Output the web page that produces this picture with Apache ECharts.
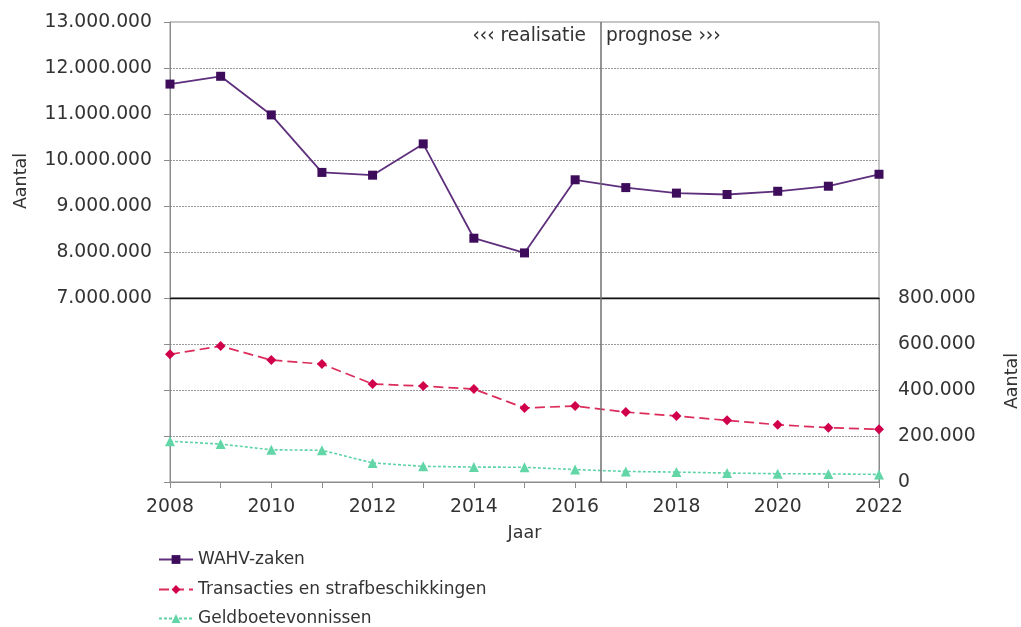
<!DOCTYPE html>
<html>
<head>
<meta charset="utf-8">
<script src="https://cdn.jsdelivr.net/npm/echarts@6/dist/echarts.min.js"></script>
<style>
  html, body { margin: 0; padding: 0; background: #fff; }
  #chart { width: 1021px; height: 627px; }
</style>
</head>
<body>
<div id="chart"></div>
<script>
// Jaren op de x-as
const years = [2008, 2009, 2010, 2011, 2012, 2013, 2014, 2015, 2016, 2017, 2018, 2019, 2020, 2021, 2022];

// Aantallen per jaar (realisatie t/m 2016, daarna prognose)
const wahvZaken = [11650000, 11820000, 10980000, 9730000, 9670000, 10350000, 8300000, 7980000,
                   9570000, 9400000, 9280000, 9250000, 9320000, 9430000, 9690000];
const transacties = [555000, 591000, 530000, 513000, 426000, 417000, 404000, 322000,
                     330000, 304000, 287000, 268000, 249000, 236000, 229000];
const geldboetes = [177000, 165000, 140000, 138000, 83000, 68000, 65000, 64000,
                    54000, 46000, 43000, 39000, 36000, 35000, 33000];

// Reeksnamen in de legenda
const seriesNames = ['WAHV-zaken', 'Transacties en strafbeschikkingen', 'Geldboetevonnissen'];

// Grens tussen realisatie en prognose
const splitYear = 2016.5;

// Schaalverdeling van beide y-assen
const topAxis = { min: 7000000, max: 13000000, interval: 1000000 };
const bottomAxis = { min: 0, max: 800000, interval: 200000 };

const FONT = '"DejaVu Sans", Verdana, sans-serif';
const TEXT = '#333333';
const GRIDC = '#8c8c8c';
const TICKFS = 18.8;

function dots(v) {
  return String(Math.round(v)).replace(/\B(?=(\d{3})+(?!\d))/g, '.');
}
function pairs(vals) {
  return years.map((y, i) => [y, vals[i]]);
}

const divider = {
  symbol: 'none',
  silent: true,
  label: { show: false },
  lineStyle: { color: '#707070', type: 'solid', width: 1.5 },
  data: [{ xAxis: splitYear }]
};

// één legenda-regel per reeks, onder elkaar
const legendTops = [551, 581, 610];
const legends = seriesNames.map((name, i) => ({
  orient: 'vertical', left: 158, top: legendTops[i], padding: 0,
  itemWidth: 34, itemHeight: 11,
  textStyle: { fontSize: 17, color: TEXT, fontFamily: FONT },
  data: [name]
}));

const chart = echarts.init(document.getElementById('chart'), null, { renderer: 'canvas' });

chart.setOption({
  backgroundColor: '#ffffff',
  animation: false,
  textStyle: { fontFamily: FONT, color: TEXT },
  grid: [
    { left: 170, right: 142, top: 22, height: 276, show: true, borderColor: GRIDC, borderWidth: 1, backgroundColor: 'transparent' },
    { left: 170, right: 142, top: 298, height: 184, show: true, borderColor: GRIDC, borderWidth: 1, backgroundColor: 'transparent' }
  ],
  xAxis: [
    {
      gridIndex: 0, type: 'value', min: years[0], max: years[years.length - 1], interval: 1,
      axisLine: { show: true, onZero: false, lineStyle: { color: '#111', width: 1.3 } },
      axisTick: { show: false }, axisLabel: { show: false }, splitLine: { show: false }
    },
    {
      gridIndex: 1, type: 'value', min: years[0], max: years[years.length - 1], interval: 1,
      axisLine: { show: true, onZero: false, lineStyle: { color: GRIDC, width: 1 } },
      axisTick: { show: true, length: 6, lineStyle: { color: GRIDC } },
      axisLabel: {
        margin: 16, fontSize: TICKFS, color: TEXT, fontFamily: FONT,
        formatter: v => (v % 2 === 0 ? String(v) : '')
      },
      splitLine: { show: false },
      name: 'Jaar', nameLocation: 'middle', nameGap: 42,
      nameTextStyle: { fontSize: 17.5, color: TEXT, fontFamily: FONT }
    }
  ],
  yAxis: [
    {
      gridIndex: 0, type: 'value', position: 'left',
      min: topAxis.min, max: topAxis.max, interval: topAxis.interval,
      axisLine: { show: true, onZero: false, lineStyle: { color: GRIDC } },
      axisTick: { show: true, length: 6, lineStyle: { color: GRIDC } },
      axisLabel: { margin: 18, fontSize: TICKFS, color: TEXT, fontFamily: FONT, formatter: dots },
      splitLine: { show: true, showMinLine: false, showMaxLine: false, lineStyle: { color: '#9a9a9a', type: [2, 1], width: 1 } }
    },
    {
      gridIndex: 1, type: 'value', position: 'left',
      min: bottomAxis.min, max: bottomAxis.max, interval: bottomAxis.interval,
      axisLine: { show: true, onZero: false, lineStyle: { color: GRIDC } },
      axisTick: { show: true, length: 6, lineStyle: { color: GRIDC } },
      axisLabel: { show: false },
      splitLine: { show: false }
    },
    {
      gridIndex: 1, type: 'value', position: 'right',
      min: bottomAxis.min, max: bottomAxis.max, interval: bottomAxis.interval,
      axisLine: { show: true, onZero: false, lineStyle: { color: GRIDC } },
      axisTick: { show: false },
      axisLabel: { margin: 19, fontSize: TICKFS, color: TEXT, fontFamily: FONT, formatter: dots },
      splitLine: { show: true, showMinLine: false, showMaxLine: false, lineStyle: { color: '#9a9a9a', type: [2, 1], width: 1 } }
    }
  ],
  legend: legends,
  series: [
    {
      name: seriesNames[0], type: 'line', xAxisIndex: 0, yAxisIndex: 0,
      data: pairs(wahvZaken),
      symbol: 'rect', symbolSize: 9,
      lineStyle: { color: '#5e2f7c', width: 1.8 },
      itemStyle: { color: '#3d0c5a' },
      markLine: divider, z: 3
    },
    {
      name: seriesNames[1], type: 'line', xAxisIndex: 1, yAxisIndex: 2,
      data: pairs(transacties),
      symbol: 'diamond', symbolSize: 10,
      lineStyle: { color: '#dc2c5b', width: 1.7, type: [10, 5] },
      itemStyle: { color: '#d0004a' },
      markLine: divider, z: 3
    },
    {
      name: seriesNames[2], type: 'line', xAxisIndex: 1, yAxisIndex: 2,
      data: pairs(geldboetes),
      symbol: 'triangle', symbolSize: 10,
      lineStyle: { color: '#5fd3a6', width: 1.6, type: [3, 2] },
      itemStyle: { color: '#63d6a8' }, z: 3
    }
  ],
  graphic: [
    {
      type: 'text', x: 586, y: 36,
      style: { text: '‹‹‹ realisatie', align: 'right', verticalAlign: 'middle', fontSize: 18.6, fontFamily: FONT, fill: TEXT }
    },
    {
      type: 'text', x: 606, y: 36,
      style: { text: 'prognose ›››', align: 'left', verticalAlign: 'middle', fontSize: 18.6, fontFamily: FONT, fill: TEXT }
    },
    {
      type: 'text', x: 21, y: 181, rotation: Math.PI / 2,
      style: { text: 'Aantal', align: 'center', verticalAlign: 'middle', fontSize: 17.5, fontFamily: FONT, fill: TEXT }
    },
    {
      type: 'text', x: 1012, y: 381, rotation: Math.PI / 2,
      style: { text: 'Aantal', align: 'center', verticalAlign: 'middle', fontSize: 17.5, fontFamily: FONT, fill: TEXT }
    }
  ]
});
</script>
</body>
</html>
